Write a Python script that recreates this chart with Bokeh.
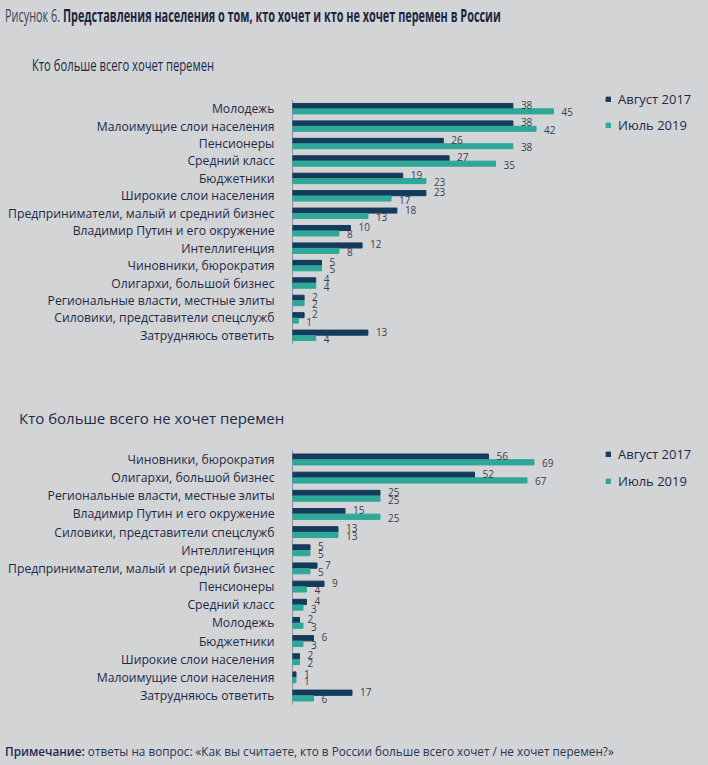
from bokeh.plotting import figure
from bokeh.layouts import column
from bokeh.models import ColumnDataSource, FactorRange, Range1d, Legend, LegendItem, Div
from bokeh.transform import dodge
from bokeh.core.properties import value
from bokeh.embed import file_html
from bokeh.resources import INLINE

# ---------------- data ----------------
want_cats = ["Молодежь", "Малоимущие слои населения", "Пенсионеры", "Средний класс",
             "Бюджетники", "Широкие слои населения", "Предприниматели, малый и средний бизнес",
             "Владимир Путин и его окружение", "Интеллигенция", "Чиновники, бюрократия",
             "Олигархи, большой бизнес", "Региональные власти, местные элиты",
             "Силовики, представители спецслужб", "Затрудняюсь ответить"]
want_2017 = [38, 38, 26, 27, 19, 23, 18, 10, 12, 5, 4, 2, 2, 13]
want_2019 = [45, 42, 38, 35, 23, 17, 13, 8, 8, 5, 4, 2, 1, 4]

notwant_cats = ["Чиновники, бюрократия", "Олигархи, большой бизнес",
                "Региональные власти, местные элиты", "Владимир Путин и его окружение",
                "Силовики, представители спецслужб", "Интеллигенция",
                "Предприниматели, малый и средний бизнес", "Пенсионеры", "Средний класс",
                "Молодежь", "Бюджетники", "Широкие слои населения",
                "Малоимущие слои населения", "Затрудняюсь ответить"]
notwant_2017 = [56, 52, 25, 15, 13, 5, 7, 9, 4, 2, 6, 2, 1, 17]
notwant_2019 = [69, 67, 25, 25, 13, 5, 5, 4, 3, 3, 3, 2, 1, 6]

series_names = ["Август 2017", "Июль 2019"]
fig_title_num = "Рисунок 6."
fig_title = "Представления населения о том, кто хочет и кто не хочет перемен в России"
sub_want = "Кто больше всего хочет перемен"
sub_notwant = "Кто больше всего не хочет перемен"
note_head = "Примечание:"
note_text = "ответы на вопрос: «Как вы считаете, кто в России больше всего хочет / не хочет перемен?»"

# ---------------- style ----------------
BG = "#d3d4d6"
NAVY = "#143a5c"
TEAL = "#2ea898"
TXT = "#1d2b48"
NUM = "#3a3f4b"
FONT = "Open Sans"
W = 708
LEFT = 292
PAD = 0.6  # factor units of range padding on each end


def make_chart(cats, a, b, xmax, height, top, bottom, legend_xy, leg_spacing):
    src = ColumnDataSource(dict(cat=cats, a=a, b=b,
                                a_lbl=[str(v) for v in a], b_lbl=[str(v) for v in b]))
    p = figure(width=W, height=height, output_backend="svg", toolbar_location=None,
               y_range=FactorRange(factors=list(reversed(cats)), range_padding=PAD,
                                   range_padding_units="absolute"),
               x_range=Range1d(0, xmax),
               min_border_left=LEFT, min_border_right=0,
               min_border_top=top, min_border_bottom=bottom)
    p.background_fill_color = BG
    p.border_fill_color = BG
    p.outline_line_color = None
    p.grid.visible = False
    p.xaxis.visible = False
    ax = p.yaxis[0]
    ax.axis_line_color = None
    ax.major_tick_line_color = None
    ax.minor_tick_line_color = None
    ax.major_label_standoff = 12
    ax.major_label_text_font = FONT
    ax.major_label_text_font_size = "12.2px"
    ax.major_label_text_color = TXT

    # category axis line spanning exactly the category band
    axsrc = ColumnDataSource(dict(x=[0], top=[(cats[0], 0.5)], bot=[(cats[-1], -0.5)]))
    p.segment(x0="x", y0="top", x1="x", y1="bot", line_color="#4a4f58", line_width=1,
              source=axsrc)

    ya = dodge("cat", 0.155, range=p.y_range)
    yb = dodge("cat", -0.155, range=p.y_range)
    r1 = p.hbar(y=ya, left=0, right="a", height=0.29, color=NAVY, source=src)
    r2 = p.hbar(y=yb, left=0, right="b", height=0.29, color=TEAL, source=src)
    p.text(x="a", y=ya, text="a_lbl", x_offset=8, y_offset=-1, text_baseline="middle",
           text_font=value(FONT), text_font_size="10px", text_color=NUM, source=src)
    p.text(x="b", y=yb, text="b_lbl", x_offset=8, y_offset=1, text_baseline="middle",
           text_font=value(FONT), text_font_size="10px", text_color=NUM, source=src)

    legend = Legend(items=[LegendItem(label=series_names[0], renderers=[r1]),
                           LegendItem(label=series_names[1], renderers=[r2])],
                    location=legend_xy, orientation="vertical",
                    glyph_width=6, glyph_height=6, label_standoff=7,
                    label_height=18, spacing=leg_spacing, padding=0, margin=0,
                    label_text_font=FONT, label_text_font_size="13px",
                    label_text_color=TXT, border_line_alpha=0,
                    background_fill_alpha=0)
    p.add_layout(legend)
    return p


def html_div(html, height):
    return Div(text=html, width=W, height=height, margin=0,
               styles={"background-color": BG})


def cond(text_html, left, top, size, scale, color):
    return (f'<div style="position:absolute;left:{left}px;top:{top}px;'
            f'font-family:\'Open Sans\',sans-serif;font-size:{size}px;line-height:20px;'
            f'color:{color};white-space:nowrap;transform:scaleX({scale});'
            f'transform-origin:0 50%;">{text_html}</div>')


head_html = (
    f'<div style="position:relative;width:{W}px;height:84px;">'
    + cond(f'{fig_title_num} <b style="color:#1a2640;">{fig_title}</b>', 5, 5, 17.5, 0.622, "#3a4560")
    + cond(sub_want, 32, 55, 17, 0.66, TXT)
    + '</div>'
)
sub2_html = (
    f'<div style="position:relative;width:{W}px;height:40px;">'
    + cond(sub_notwant, 19, 16, 15, 1.0, TXT)
    + '</div>'
)
note_html = (
    f'<div style="position:relative;width:{W}px;height:45px;">'
    + cond(f'<span style="color:#1b2a55;font-weight:600;">{note_head}</span> {note_text}',
           5, 22, 12.5, 0.94, "#2b3652")
    + '</div>'
)

# page layout (margin 0): head 0..84, p1 84..392, sub2 392..432, p2 432..720, note 720..765
p1 = make_chart(want_cats, want_2017, want_2019, 416 / 5.8, 308, 5, 38, (313, 220), 8)
p2 = make_chart(notwant_cats, notwant_2017, notwant_2019, 416 / 3.5, 288, 7, 5, (313, 225), 9)

layout = column(html_div(head_html, 84), p1, html_div(sub2_html, 40), p2,
                html_div(note_html, 45), spacing=0)

template = """{% block postamble %}<style>html, body { background: #d3d4d6; }</style>{% endblock %}"""
open("out.html", "w").write(file_html(layout, INLINE, template=template))
